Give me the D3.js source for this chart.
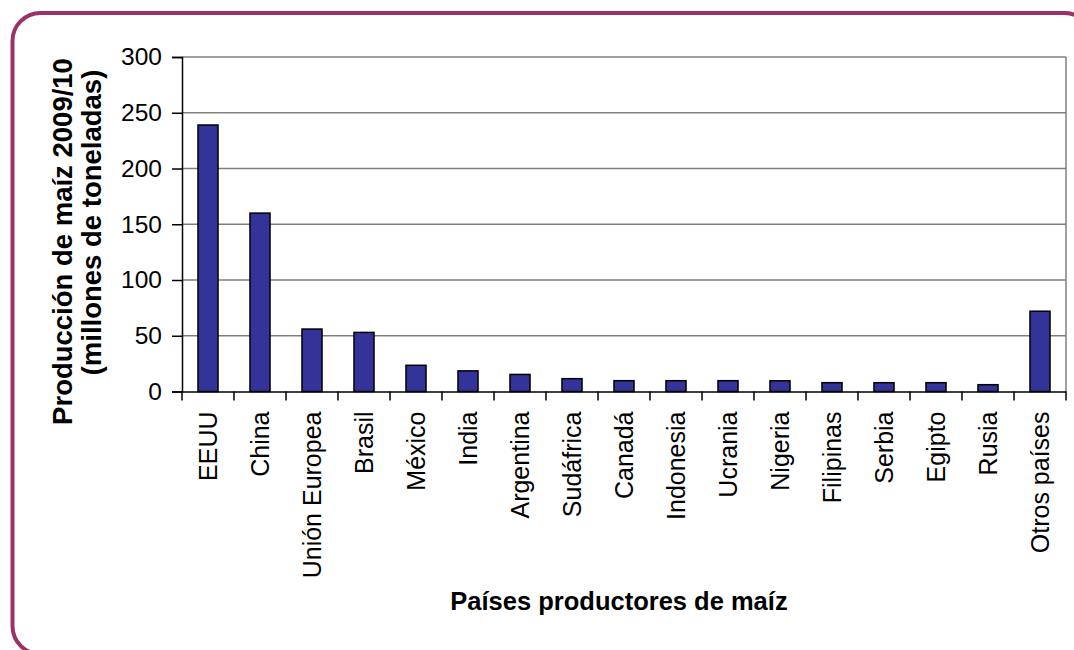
<!DOCTYPE html>
<html>
<head>
<meta charset="utf-8">
<script src="https://cdn.jsdelivr.net/npm/d3@7"></script>
<style>
  body { margin: 0; background: #fff; }
  svg { display: block; font-family: Arial, "Liberation Sans", sans-serif; }
</style>
</head>
<body>
<svg id="chart" width="1074" height="650"></svg>
<script>
// countries and production (millions of tonnes)
var paises = ["EEUU", "China", "Unión Europea", "Brasil", "México", "India", "Argentina",
  "Sudáfrica", "Canadá", "Indonesia", "Ucrania", "Nigeria", "Filipinas", "Serbia",
  "Egipto", "Rusia", "Otros países"];
var produccion = [239, 160, 56, 53, 23.5, 18.5, 15.3, 11.5, 9.7, 9.7, 9.7, 9.6, 7.9, 7.9, 7.9, 6.1, 72];
var yTicks = [0, 50, 100, 150, 200, 250, 300];

var svg = d3.select("#chart");

// rounded frame (runs off the right and bottom edges)
svg.append("rect")
  .attr("x", 12.5).attr("y", 13)
  .attr("width", 1080).attr("height", 641)
  .attr("rx", 28).attr("ry", 28)
  .attr("fill", "none")
  .attr("stroke", "#993366")
  .attr("stroke-width", 4);

var plotLeft = 182, plotRight = 1066, plotTop = 57, plotBottom = 391.5;

var x = d3.scaleBand()
  .domain(paises)
  .range([plotLeft, plotRight])
  .paddingInner(0.615)
  .paddingOuter(0.3075);

var y = d3.scaleLinear()
  .domain([0, 300])
  .range([plotBottom, plotTop]);

var g = svg.append("g");

// gridlines
g.selectAll("line.grid")
  .data(yTicks.filter(function(d) { return d > 0; }))
  .enter()
  .append("line")
  .attr("class", "grid")
  .attr("x1", plotLeft).attr("x2", plotRight)
  .attr("y1", function(d) { return y(d); })
  .attr("y2", function(d) { return y(d); })
  .attr("stroke", "#808080")
  .attr("stroke-width", 1.5);

// right border of plot area
g.append("line")
  .attr("x1", plotRight).attr("x2", plotRight)
  .attr("y1", y(300)).attr("y2", y(0))
  .attr("stroke", "#808080")
  .attr("stroke-width", 1.5);

// bars
g.selectAll("rect.bar")
  .data(paises)
  .enter()
  .append("rect")
  .attr("class", "bar")
  .attr("x", function(d) { return x(d); })
  .attr("width", x.bandwidth())
  .attr("y", function(d, i) { return y(produccion[i]); })
  .attr("height", function(d, i) { return y(0) - y(produccion[i]); })
  .attr("fill", "#333399")
  .attr("stroke", "#000")
  .attr("stroke-width", 1.5);

// y axis
var yAxis = g.append("g")
  .attr("transform", "translate(" + plotLeft + ",0)")
  .call(d3.axisLeft(y).tickValues(yTicks).tickSize(10).tickPadding(10));
yAxis.select(".domain").attr("stroke", "#000").attr("stroke-width", 1.5);
yAxis.selectAll(".tick line").attr("stroke", "#000").attr("stroke-width", 1.5);
yAxis.selectAll(".tick text")
  .attr("font-size", 24.5)
  .attr("fill", "#000")
  .style("font-family", "Arial, 'Liberation Sans', sans-serif");

// x axis (labels at band centres, ticks at band boundaries)
var xAxis = g.append("g")
  .attr("transform", "translate(0," + plotBottom + ")")
  .call(d3.axisBottom(x).tickSizeInner(0).tickSizeOuter(0).tickPadding(0));
xAxis.select(".domain").attr("stroke", "#000").attr("stroke-width", 1.5);
xAxis.selectAll(".tick text")
  .attr("font-size", 25)
  .attr("fill", "#000")
  .style("font-family", "Arial, 'Liberation Sans', sans-serif")
  .attr("transform", "rotate(-90)")
  .attr("text-anchor", "end")
  .attr("x", -20)
  .attr("y", 0)
  .attr("dy", "0.35em");

var bounds = paises.map(function(d) { return x(d) - (x.step() - x.bandwidth()) / 2; });
bounds.push(plotRight);
xAxis.selectAll("line.bound")
  .data(bounds)
  .enter()
  .append("line")
  .attr("class", "bound")
  .attr("x1", function(d) { return d; })
  .attr("x2", function(d) { return d; })
  .attr("y1", 0).attr("y2", 9)
  .attr("stroke", "#000")
  .attr("stroke-width", 1.5);

// axis titles
svg.append("text")
  .attr("transform", "translate(72,241.5) rotate(-90)")
  .attr("text-anchor", "middle")
  .attr("font-size", 27.5)
  .attr("font-weight", "bold")
  .text("Producción de maíz 2009/10");

svg.append("text")
  .attr("transform", "translate(101,222.5) rotate(-90)")
  .attr("text-anchor", "middle")
  .attr("font-size", 27.5)
  .attr("font-weight", "bold")
  .text("(millones de toneladas)");

svg.append("text")
  .attr("x", 619)
  .attr("y", 610)
  .attr("text-anchor", "middle")
  .attr("font-size", 25.5)
  .attr("font-weight", "bold")
  .text("Países productores de maíz");
</script>
</body>
</html>
